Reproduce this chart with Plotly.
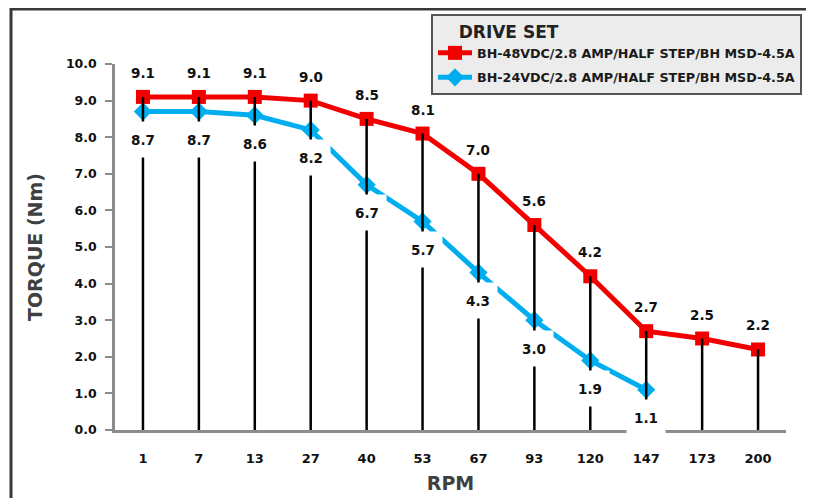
import plotly.graph_objects as go

# ---------------- data ----------------
rpm = ["1", "7", "13", "27", "40", "53", "67", "93", "120", "147", "173", "200"]
torque_48v = [9.1, 9.1, 9.1, 9.0, 8.5, 8.1, 7.0, 5.6, 4.2, 2.7, 2.5, 2.2]
torque_24v = [8.7, 8.7, 8.6, 8.2, 6.7, 5.7, 4.3, 3.0, 1.9, 1.1, None, None]
y_ticks = [0, 1, 2, 3, 4, 5, 6, 7, 8, 9, 10]
name_48 = "BH-48VDC/2.8 AMP/HALF STEP/BH MSD-4.5A"
name_24 = "BH-24VDC/2.8 AMP/HALF STEP/BH MSD-4.5A"
legend_title = "DRIVE SET"
x_title = "RPM"
y_title = "TORQUE (Nm)"

# ---------------- layout geometry ----------------
# the page body adds an 8px offset, so the figure is sized to fill the rest
OFF = 8
W, H = 814 - OFF, 498 - OFF
ML, MR, MT, MB = 115 - OFF, 28, 64 - OFF, 68
PW, PH = W - ML - MR, H - MT - MB


def px(x):  # page pixel -> paper
    return (x - OFF - ML) / PW


def py(y):  # page pixel -> paper
    return (H - MB - (y - OFF)) / PH


FONT = "DejaVu Sans"
RED = "#f20000"
BLUE = "#00aeef"

fig = go.Figure()

fig.add_trace(go.Scatter(
    x=rpm, y=torque_48v, name=name_48, mode="lines+markers",
    line=dict(color=RED, width=5),
    marker=dict(symbol="square", size=14, color=RED),
    legendgroup="a", cliponaxis=False,
))
fig.add_trace(go.Scatter(
    x=rpm, y=torque_24v, name=name_24, mode="lines+markers",
    line=dict(color=BLUE, width=5),
    marker=dict(symbol="diamond", size=14, color=BLUE),
    legendgroup="b", cliponaxis=False,
))

# drop lines from 0 up to the 48V value
dx, dy = [], []
for c, v in zip(rpm, torque_48v):
    dx += [c, c, None]
    dy += [0, v, None]
fig.add_trace(go.Scatter(
    x=dx, y=dy, mode="lines", line=dict(color="black", width=2.5),
    showlegend=False, hoverinfo="skip", cliponaxis=False,
))

annotations = []
for i, v in enumerate(torque_48v):
    annotations.append(dict(
        x=i, y=v, xref="x", yref="y", text=f"{v:.1f}", showarrow=False,
        yshift=24, font=dict(family=FONT, size=13.5, color="#111111", weight="bold"),
    ))
for i, v in enumerate(torque_24v):
    if v is None:
        continue
    annotations.append(dict(
        x=i, y=v, xref="x", yref="y", text=f"{v:.1f}", showarrow=False,
        yshift=-28, bgcolor="white", width=36, height=33, borderpad=1,
        font=dict(family=FONT, size=13.5, color="#111111", weight="bold"),
    ))

shapes = [
    # outer frame
    dict(type="line", xref="paper", yref="paper", x0=px(11), x1=px(11),
         y0=py(8), y1=py(510), line=dict(color="#383838", width=3)),
    dict(type="line", xref="paper", yref="paper", x0=px(10), x1=px(813),
         y0=py(9), y1=py(9), line=dict(color="#383838", width=3)),
    dict(type="line", xref="paper", yref="paper", x0=px(812), x1=px(812),
         y0=py(8), y1=py(510), line=dict(color="#383838", width=3)),
]

fig.update_layout(
    width=W, height=H,
    margin=dict(l=ML, r=MR, t=MT, b=MB, autoexpand=False),
    paper_bgcolor="white", plot_bgcolor="white",
    font=dict(family=FONT, color="#111111"),
    annotations=annotations, shapes=shapes,
    showlegend=True,
    legend=dict(
        x=px(431), y=py(14), xanchor="left", yanchor="top",
        bgcolor="#ececec", bordercolor="#555555", borderwidth=2,
        font=dict(family=FONT, size=12.7, color="#1a1a1a", weight="bold"),
        title=dict(text="\u00a0\u00a0\u00a0\u00a0" + legend_title,
                   font=dict(family=FONT, size=17, color="#222222", weight="bold")),
        tracegroupgap=5, itemwidth=34,
    ),
    xaxis=dict(
        type="category", categoryorder="array", categoryarray=rpm,
        range=[-0.5, len(rpm) - 0.5], autorange=False,
        showline=True, linecolor="#8c8c8c", linewidth=2.5,
        ticks="", showgrid=False, zeroline=False,
        tickfont=dict(family=FONT, size=13, color="#111111", weight="bold"),
        ticklabelstandoff=15,
        title=dict(text=x_title, standoff=12,
                   font=dict(family=FONT, size=19, color="#404040", weight="bold")),
    ),
    yaxis=dict(
        range=[0, 10], autorange=False, tickvals=y_ticks, tickformat=".1f",
        showline=True, linecolor="#8c8c8c", linewidth=2.5,
        ticks="outside", ticklen=7, tickwidth=2, tickcolor="#8c8c8c",
        showgrid=False, zeroline=False,
        tickfont=dict(family=FONT, size=12.5, color="#111111", weight="bold"),
        ticklabelstandoff=6,
        title=dict(text=y_title, standoff=19,
                   font=dict(family=FONT, size=19, color="#404040", weight="bold")),
    ),
)

fig.write_html("out.html")
